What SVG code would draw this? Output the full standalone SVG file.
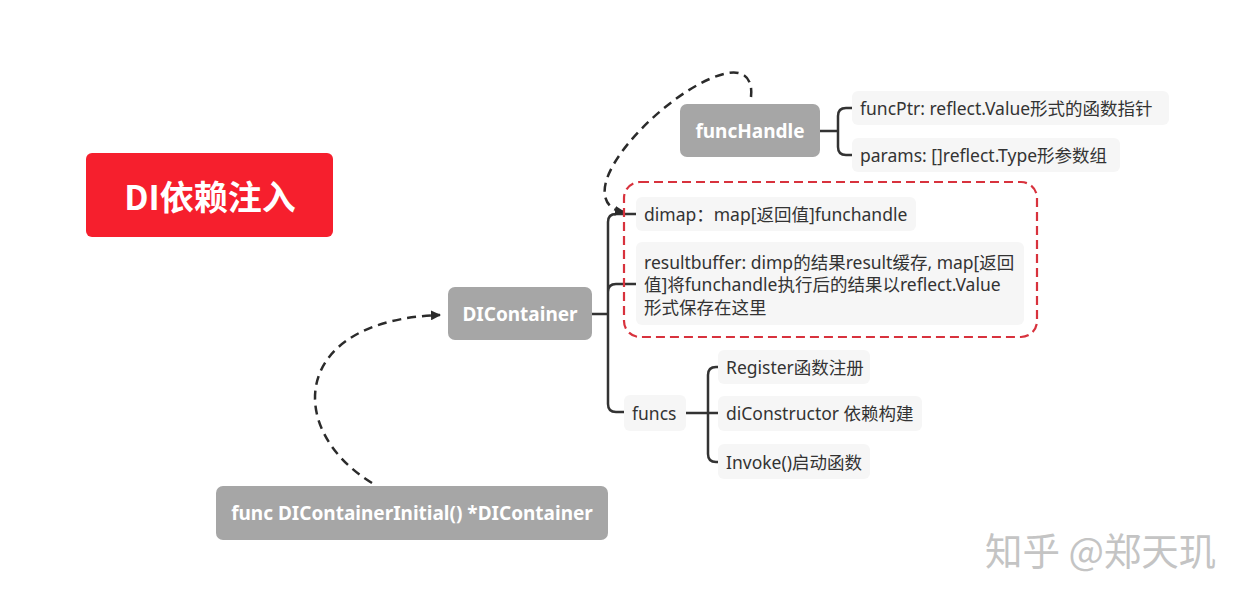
<svg xmlns="http://www.w3.org/2000/svg" width="1246" height="599" viewBox="0 0 1246 599">
<defs>
<style>
.bg{fill:#ffffff}
.main{fill:#a6a6a6}
.leaf{fill:#f6f6f6}
.mt{font-family:"Noto Sans","Noto Sans CJK SC",sans-serif;font-weight:bold;font-size:19px;fill:#ffffff;text-anchor:middle;dominant-baseline:central}
.lt{font-family:"Noto Sans","Noto Sans CJK SC",sans-serif;font-size:17.5px;fill:#333333;dominant-baseline:central}
.br{fill:none;stroke:#333333;stroke-width:2.5;stroke-linecap:round;stroke-linejoin:round}
.dash{fill:none;stroke:#2b2b2b;stroke-width:2.5;stroke-dasharray:9 6}
.red{fill:none;stroke:#d8323d;stroke-width:2.2;stroke-dasharray:9 5}
</style>
<marker id="ah" viewBox="0 0 10 10" refX="9" refY="5" markerWidth="4" markerHeight="4" orient="auto" markerUnits="strokeWidth">
<path d="M0,0 L10,5 L0,10 z" fill="#2b2b2b"/>
</marker>
</defs>
<rect class="bg" x="0" y="0" width="1246" height="599"/>

<g id="connectors">
<path class="br" d="M820,131 H838 M852,108 H846 Q838,108 838,116 V147 Q838,155 846,155 H852"/>
<path class="br" d="M592,314 H608 M636,214 H616 Q608,214 608,222 V404 Q608,412 616,412 H624 M608,292 Q608,284 616,284 H636"/>
<path class="br" d="M686,413 H718 M718,367 H716 Q708,367 708,375 V454 Q708,462 716,462 H718"/>
<path class="dash" d="M372,483 C285,430 290,320 440,315" marker-end="url(#ah)"/>
<path class="dash" d="M751,97 C753,80 745,70 728,73 C680,82 598,160 605,196 Q608,210 624,212" marker-end="url(#ah)"/>
</g>

<g id="title">
<rect x="86" y="153" width="247" height="84" rx="6" fill="#f61f2d"/>
<text x="210" y="195" font-family="'Noto Sans CJK SC',sans-serif" font-weight="bold" font-size="34" fill="#ffffff" text-anchor="middle" dominant-baseline="central">DI依赖注入</text>
</g>

<g id="funcHandle">
<rect class="main" x="680" y="104" width="140" height="53" rx="7"/>
<text class="mt" x="750" y="130.5">funcHandle</text>
</g>
<g id="funcPtr">
<rect class="leaf" x="852" y="91" width="317" height="34" rx="6"/>
<text class="lt" x="860" y="108">funcPtr: reflect.Value形式的函数指针</text>
</g>
<g id="params">
<rect class="leaf" x="852" y="138" width="268" height="34" rx="6"/>
<text class="lt" x="860" y="155">params: []reflect.Type形参数组</text>
</g>

<g id="group-box">
<rect class="red" x="624" y="182" width="413" height="155" rx="16"/>
</g>
<g id="dimap">
<rect class="leaf" x="636" y="197" width="280" height="34" rx="6"/>
<text class="lt" x="644" y="214">dimap：map[返回值]funchandle</text>
</g>
<g id="resultbuffer">
<rect class="leaf" x="636" y="242" width="388" height="83" rx="6"/>
<text class="lt" x="644" y="262">resultbuffer: dimp的结果result缓存, map[返回</text>
<text class="lt" x="644" y="284">值]将funchandle执行后的结果以reflect.Value</text>
<text class="lt" x="644" y="307">形式保存在这里</text>
</g>

<g id="DIContainer">
<rect class="main" x="448" y="287" width="144" height="53" rx="7"/>
<text class="mt" x="520" y="313.5">DIContainer</text>
</g>

<g id="funcs">
<rect class="leaf" x="624" y="395" width="62" height="36" rx="6"/>
<text class="lt" x="632" y="413">funcs</text>
</g>
<g id="register">
<rect class="leaf" x="718" y="350" width="152" height="34" rx="6"/>
<text class="lt" x="726" y="367">Register函数注册</text>
</g>
<g id="diConstructor">
<rect class="leaf" x="718" y="396" width="204" height="35" rx="6"/>
<text class="lt" x="726" y="413">diConstructor 依赖构建</text>
</g>
<g id="invoke">
<rect class="leaf" x="718" y="444" width="152" height="35" rx="6"/>
<text class="lt" x="726" y="462">Invoke()启动函数</text>
</g>

<g id="DIContainerInitial">
<rect class="main" x="216" y="486" width="392" height="54" rx="7"/>
<text class="mt" x="412" y="513">func DIContainerInitial() *DIContainer</text>
</g>

<text x="985" y="548" font-family="'Noto Sans CJK SC',sans-serif" font-size="37.5" fill="#c4c4c4" dominant-baseline="central">知乎 @郑天玑</text>
</svg>
